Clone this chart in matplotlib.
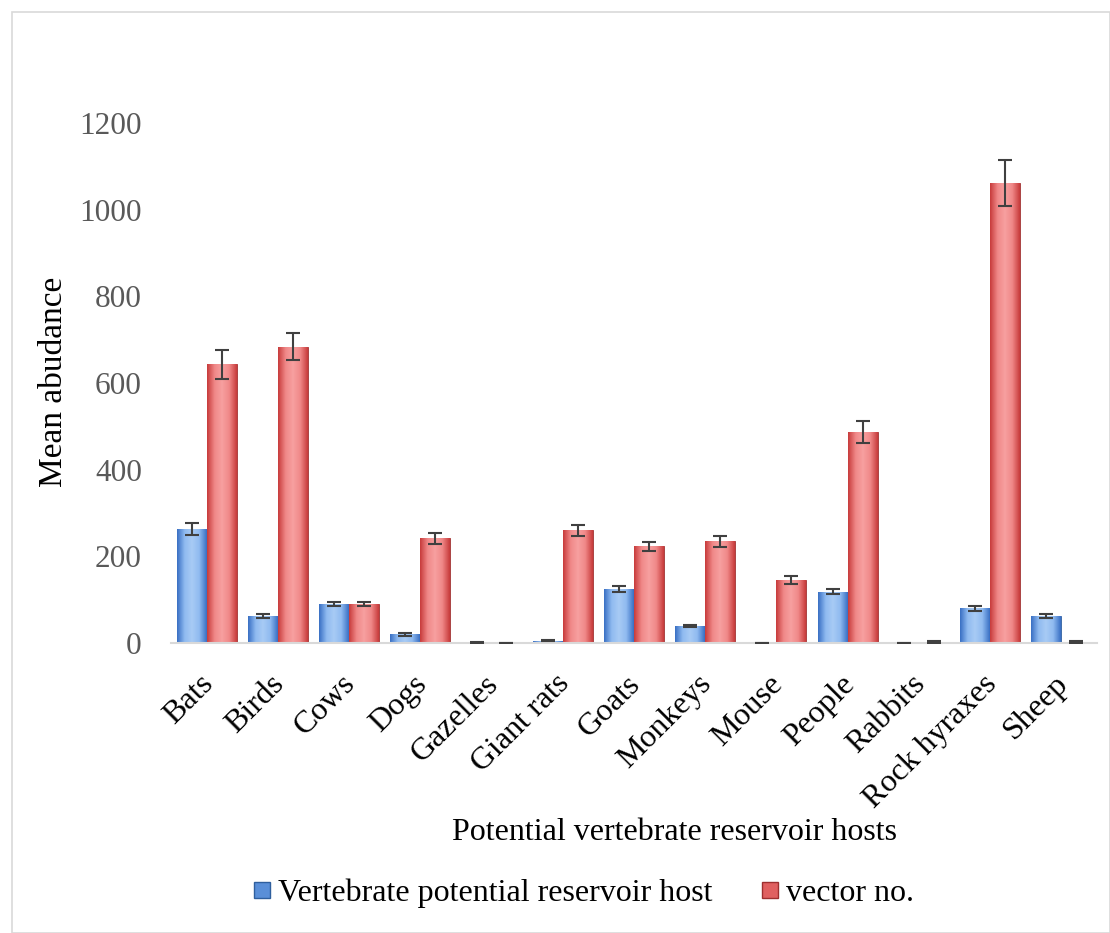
import numpy as np
import matplotlib
matplotlib.use("Agg")
import matplotlib.pyplot as plt
import matplotlib.transforms as mtransforms
from matplotlib.patches import Rectangle
from matplotlib.colors import LinearSegmentedColormap
from matplotlib.lines import Line2D

categories = ["Bats", "Birds", "Cows", "Dogs", "Gazelles", "Giant rats", "Goats",
              "Monkeys", "Mouse", "People", "Rabbits", "Rock hyraxes", "Sheep"]
host_vals = [263, 62, 90, 20, 1, 5, 124, 39, 0, 118, 0, 80, 62]
host_err = [13, 4, 5, 3, 1, 1, 7, 3, 0, 6, 0, 5, 4]
vector_vals = [643, 684, 90, 242, 0, 260, 223, 235, 145, 487, 2, 1061, 3]
vector_err = [33, 32, 5, 13, 0, 13, 11, 13, 9, 25, 2, 53, 2]
yticks = [0, 200, 400, 600, 800, 1000, 1200]

plt.rcParams['font.family'] = ['Liberation Serif', 'DejaVu Serif']

fig = plt.figure(figsize=(11.1, 9.33), dpi=100)
fig.patches.append(Rectangle((12/1110, 0), 1 - 12/1110, 1 - 12/933, transform=fig.transFigure,
                             fill=False, edgecolor='#d9d9d9', linewidth=1.2))
ax = fig.add_axes([171/1110, 1 - 643/933, (1097 - 171)/1110, (643 - 123)/933])

x = np.arange(len(categories))
w = 0.42
b1 = ax.bar(x - w/2, host_vals, w, color='#6a9de0', edgecolor='#2f5f9e', linewidth=0.6, zorder=2)
b2 = ax.bar(x + w/2, vector_vals, w, color='#ee7a7a', edgecolor='#9e2f2f', linewidth=0.6, zorder=2)

cm_blue = LinearSegmentedColormap.from_list('b', ['#3a70c4', '#8fbaf0', '#a8cbf5', '#8fbaf0', '#3a70c4'])
cm_red = LinearSegmentedColormap.from_list('r', ['#c83c3c', '#f08888', '#f7a0a0', '#f08888', '#c83c3c'])
grad = np.linspace(0, 1, 64).reshape(1, -1)
for bars, cmap in ((b1, cm_blue), (b2, cm_red)):
    for p in bars:
        h = p.get_height()
        if h <= 0:
            continue
        x0 = p.get_x(); ww = p.get_width()
        im = ax.imshow(grad, cmap=cmap, aspect='auto', extent=(x0, x0 + ww, 0, h), zorder=2.5)
        im.set_clip_path(p)

ax.errorbar(x - w/2, host_vals, yerr=host_err, fmt='none', ecolor='#404040', capsize=5, elinewidth=1.5, capthick=1.5, zorder=3)
ax.errorbar(x + w/2, vector_vals, yerr=vector_err, fmt='none', ecolor='#404040', capsize=5, elinewidth=1.5, capthick=1.5, zorder=3)

ax.set_xlim(-0.5, len(categories) - 0.5)
ax.set_ylim(0, 1200)
ax.set_yticks(yticks)
ax.set_yticklabels([str(v) for v in yticks], fontsize=22.5, color='#595959')
ax.set_xticks(x)
ax.set_xticklabels(categories, rotation=45, ha='right', rotation_mode='anchor', fontsize=23, color='black')
ax.tick_params(axis='x', length=0, pad=19)
ax.tick_params(axis='y', length=0, pad=21)
off = mtransforms.ScaledTranslation(-8/100, 0, fig.dpi_scale_trans)
for lab in ax.get_xticklabels():
    lab.set_transform(lab.get_transform() + off)
for s in ['top', 'right', 'left']:
    ax.spines[s].set_visible(False)
ax.spines['bottom'].set_color('#d9d9d9')
ax.spines['bottom'].set_linewidth(1.5)

fig.text(54/1110, 1 - 382/933, 'Mean abudance', fontsize=24, rotation=90, ha='center', va='center')
fig.text(675/1110, 1 - 833/933, 'Potential vertebrate reservoir hosts',
         fontsize=23, ha='center', va='center')

handles = [Line2D([], [], marker='s', linestyle='none', markersize=11, markerfacecolor='#5a8fd8', markeredgecolor='#2f5f9e'),
           Line2D([], [], marker='s', linestyle='none', markersize=11, markerfacecolor='#e06060', markeredgecolor='#9e2f2f')]
fig.legend(handles, ['Vertebrate potential reservoir host', 'vector no.'], loc='center',
           bbox_to_anchor=(580/1110, 1 - 893/933), ncol=2, frameon=False, fontsize=23,
           handletextpad=0.0, columnspacing=1.3, handlelength=1.0)

fig.savefig('out.png', dpi=100)
